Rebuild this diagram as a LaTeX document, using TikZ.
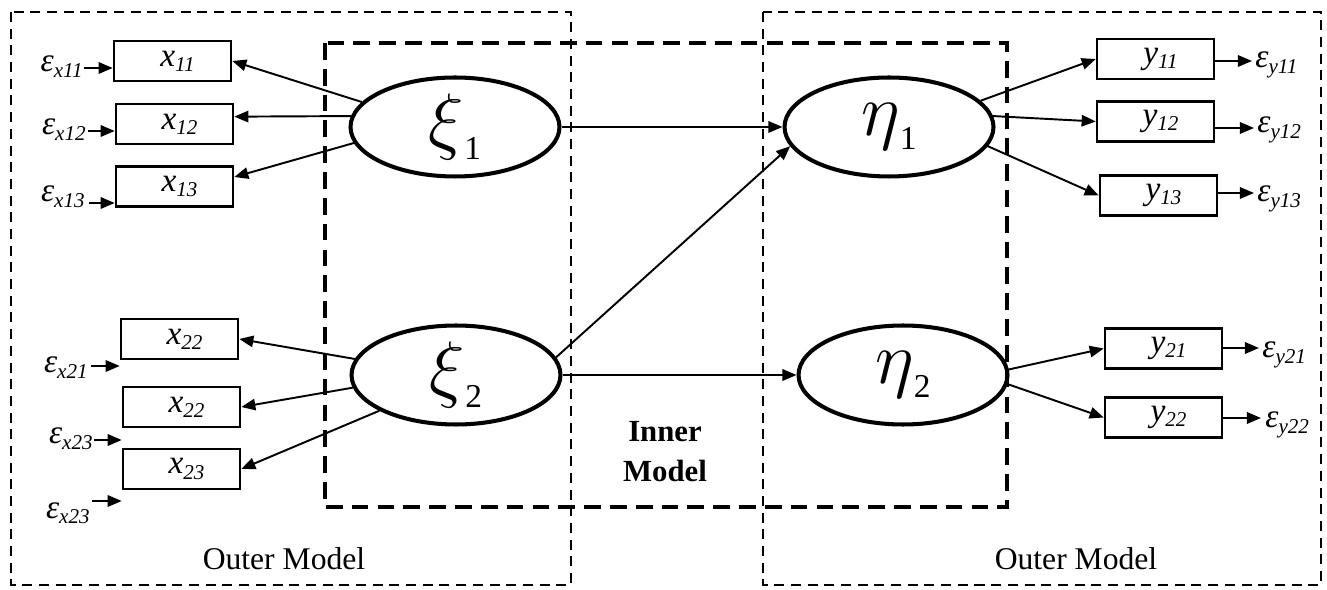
\documentclass[tikz,border=0pt]{standalone}
\usepackage{graphicx}
\usepackage{fontspec}
\setmainfont{Liberation Serif}
\usetikzlibrary{shapes.geometric,arrows.meta}
\newcommand\obslbl[2]{\hspace*{0.2cm}\raisebox{-2.5pt}{\fontsize{19}{20}\selectfont\itshape #1\raisebox{-3pt}{\fontsize{12}{12}\selectfont #2}}}
\newcommand\errlbl[1]{{\fontsize{19}{20}\selectfont\itshape ε\raisebox{-3pt}{\fontsize{12}{12}\selectfont #1}}}
\newcommand\latlbl[2]{\scalebox{1.7}{\fontsize{24.88}{25}\selectfont$#1$}\raisebox{-8pt}{\fontsize{19}{19}\selectfont #2}}
\tikzset{
  obsbox/.style={draw, line width=1.5pt, minimum width=2.34cm, minimum height=0.8cm, inner sep=0pt},
  latent/.style={draw, ellipse, line width=2.3pt, minimum width=4.18cm, minimum height=1.98cm, inner sep=0pt},
  arr/.style={-{Triangle[length=8pt,width=6.5pt]}, line width=1.1pt},
  outerbox/.style={dash pattern=on 5.7pt off 3.8pt, line width=1.1pt},
  innerbox/.style={dash pattern=on 9.5pt off 5.2pt, line width=2.1pt},
  lbl/.style={inner sep=0pt}
}
\begin{document}
\begin{tikzpicture}[x=0.02cm,y=-0.02cm]
\useasboundingbox (0,0) rectangle (1327,590);
% model frames
\draw[outerbox] (11,12) rectangle (571,585);
\draw[outerbox] (763,12) rectangle (1321,585);
\draw[innerbox] (325,43) rectangle (1007,507);
% latent variables
\node[latent] (xi1) at (455,127) {\latlbl{\xi}{1}};
\node[latent] (xi2) at (456,375) {\latlbl{\xi}{2}};
\node[latent] (eta1) at (889,127) {\latlbl{\eta}{1}};
\node[latent] (eta2) at (903,375) {\latlbl{\eta}{2}};
% indicators
\node[obsbox] (x11) at (172.5,61) {\obslbl{x}{11}};
\node[obsbox] (x12) at (174.5,124) {\obslbl{x}{12}};
\node[obsbox] (x13) at (174.5,186.5) {\obslbl{x}{13}};
\node[obsbox] (x22a) at (179.5,339) {\obslbl{x}{22}};
\node[obsbox] (x22b) at (181.5,407) {\obslbl{x}{22}};
\node[obsbox] (x23) at (181.5,469) {\obslbl{x}{23}};
\node[obsbox] (y11) at (1155.5,59) {\obslbl{y}{11}};
\node[obsbox] (y12) at (1155.5,121.5) {\obslbl{y}{12}};
\node[obsbox] (y13) at (1158.5,195.5) {\obslbl{y}{13}};
\node[obsbox] (y21) at (1163.5,348.5) {\obslbl{y}{21}};
\node[obsbox] (y22) at (1163.5,417.5) {\obslbl{y}{22}};
% error labels
\node[lbl, anchor=base east] (ex11) at (83,72) {\errlbl{x11}};
\node[lbl, anchor=base east] (ex12) at (86,135) {\errlbl{x12}};
\node[lbl, anchor=base east] (ex13) at (85,202) {\errlbl{x13}};
\node[lbl, anchor=base east] (ex21) at (88,373) {\errlbl{x21}};
\node[lbl, anchor=base east] (ex23a) at (93,444) {\errlbl{x23}};
\node[lbl, anchor=base east] (ex23b) at (90,518) {\errlbl{x23}};
\node[lbl, anchor=base west] (ey11) at (1255,68) {\errlbl{y11}};
\node[lbl, anchor=base west] (ey12) at (1257,133) {\errlbl{y12}};
\node[lbl, anchor=base west] (ey13) at (1257,202) {\errlbl{y13}};
\node[lbl, anchor=base west] (ey21) at (1262,358) {\errlbl{y21}};
\node[lbl, anchor=base west] (ey22) at (1265,428) {\errlbl{y22}};
% arrow anchor coordinates for error terms
\coordinate (a11) at (84,68);
\coordinate (a12) at (88,131);
\coordinate (a13) at (89,203);
\coordinate (a21) at (91,366);
\coordinate (a23a) at (94,440);
\coordinate (a23b) at (92,501);
\coordinate (b11) at (1252,61);
\coordinate (b12) at (1254,128);
\coordinate (b13) at (1254,193);
\coordinate (b21) at (1259,348);
\coordinate (b22) at (1261,418);
% error arrows
\draw[arr] (a11) -- (a11 -| x11.west);
\draw[arr] (a12) -- (a12 -| x12.west);
\draw[arr] (a13) -- (a13 -| x13.west);
\draw[arr] (a21) -- (a21 -| x22a.west);
\draw[arr] (a23a) -- (a23a -| x22b.west);
\draw[arr] (a23b) -- (a23b -| x23.west);
\draw[arr] (b11 -| y11.east) -- (b11);
\draw[arr] (b12 -| y12.east) -- (b12);
\draw[arr] (b13 -| y13.east) -- (b13);
\draw[arr] (b21 -| y21.east) -- (b21);
\draw[arr] (b22 -| y22.east) -- (b22);
% loadings
\draw[arr] (xi1.165) -- (x11.east);
\draw[arr] (xi1.174) -- (x12.7);
\draw[arr] (xi1.189) -- (x13.9);
\draw[arr] (xi2.171) -- (x22a.east);
\draw[arr] (xi2.187) -- (x22b.east);
\draw[arr] (xi2.205) -- (x23.east);
\draw[arr] (eta1.16) -- (y11.west);
\draw[arr] (eta1.6) -- (y12.west);
\draw[arr] (eta1.-11) -- (y13.west);
\draw[arr] (eta2.3) -- (y21.west);
\draw[arr] (eta2.-5) -- (y22.west);
% structural paths
\draw[arr] (xi1.east) -- (eta1.west);
\draw[arr] (xi2.10) -- (eta1.191);
\draw[arr] (xi2.east) -- (eta2.west);
% labels
\node[lbl, anchor=base] (outl) at (284,569) {\fontsize{18}{20}\selectfont Outer Model};
\node[lbl, anchor=base] (outr) at (1076,569) {\fontsize{18}{20}\selectfont Outer Model};
\node[lbl, align=center, font={\fontsize{17.5}{22.7}\selectfont\bfseries}] (inner) at (665,452) {Inner\\Model};
\end{tikzpicture}
\end{document}
